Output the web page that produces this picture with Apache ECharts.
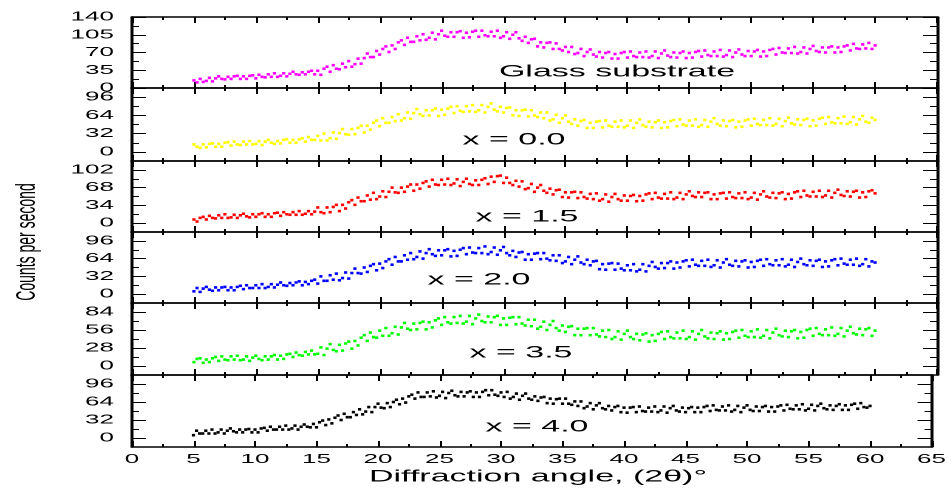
<!DOCTYPE html>
<html>
<head>
<meta charset="utf-8">
<script src="https://cdn.jsdelivr.net/npm/echarts@6/dist/echarts.min.js"></script>
<style>
html,body{margin:0;padding:0;background:#fff;overflow:hidden;}
#c{width:476px;height:488px;transform:scaleX(2);transform-origin:0 0;}
</style>
</head>
<body>
<div id="c"></div>
<script>
// ---- data ----
const angleStart = 5, angleStep = 0.25;
const xTickLabels = [0,5,10,15,20,25,30,35,40,45,50,55,60,65];
const sampleNames = ['Glass substrate','x = 0.0','x = 1.5','x = 2.0','x = 3.5','x = 4.0'];
const glass = [
15,11,18,12, 14,20,13,19, 23,18,17,22, 18,23,24,18, 23,18,24,25,
19,26,22,21, 27,22,29,22, 24,29,23,28, 32,27,26,31, 27,32,34,27,
34,26,38,42, 32,45,38,37, 48,41,53,42, 47,58,48,59, 68,61,61,73,
66,77,82,71, 84,77,90,94, 85,99,91,91, 102,94,106,95, 99,109,96,106,
113,103,101,110, 101,110,112,99, 109,100,111,113, 101,113,104,102, 111,102,113,99,
102,110,97,105, 110,98,93,101, 89,96,97,82, 90,80,89,90, 77,88,77,74,
81,71,81,67, 69,77,63,71, 76,66,62,71, 60,69,71,58, 67,58,69,71,
60,72,63,61, 70,61,72,60, 63,72,59,68, 74,64,61,70, 60,69,72,59,
69,60,71,73, 62,74,65,63, 72,63,75,62, 65,74,61,70, 76,66,63,73,
63,72,75,62, 72,63,75,77, 66,79,70,69, 78,69,81,68, 71,80,68,77,
83,73,71,80, 70,80,82,70, 80,71,82,84, 74,87,78,77, 86,78,89,77,
84];
const x00 = [
13,9,7,13, 8,14,15,9, 14,9,16,17, 11,18,13,12, 18,13,19,13,
14,19,12,18, 21,16,14,19, 15,21,22,16, 21,16,22,24, 18,26,21,21,
28,20,32,20, 24,34,23,33, 40,31,30,40, 31,42,46,34, 46,39,51,55,
45,59,51,51, 61,54,66,55, 59,69,58,68, 75,66,63,73, 64,73,76,63,
74,65,76,79, 68,80,72,70, 80,71,82,70, 73,82,69,79, 85,74,71,79,
69,77,78,64, 73,63,73,74, 62,73,64,61, 69,59,69,55, 57,65,51,59,
64,53,49,57, 46,54,56,42, 51,42,53,54, 43,55,46,44, 53,44,55,43,
46,55,42,51, 57,47,44,53, 43,52,55,42, 52,43,54,56, 45,57,48,46,
55,46,57,44, 47,56,44,53, 59,49,46,55, 45,54,56,43, 53,44,55,57,
46,58,49,47, 56,47,59,46, 49,58,45,54, 60,50,48,57, 47,56,58,45,
55,46,58,60, 49,61,52,50, 59,50,62,49, 52,61,48,57, 63,53,51,60,
56];
const x15 = [
7,3,10,12, 7,14,10,9, 15,10,17,10, 11,16,10,15, 18,13,11,17,
12,17,19,12, 17,12,19,20, 14,21,17,16, 21,16,23,16, 18,23,17,22,
30,21,19,30, 21,31,35,23, 35,28,40,44, 35,49,42,42, 53,45,58,46,
51,61,50,60, 68,59,58,68, 60,70,74,62, 74,66,77,80, 70,83,74,73,
83,74,85,73, 76,84,71,79, 85,75,73,82, 73,83,86,75, 89,79,90,91,
77,87,77,73, 81,70,80,65, 67,75,60,68, 73,62,58,66, 55,63,64,50,
59,49,59,60, 48,59,50,47, 56,46,57,43, 46,55,41,50, 56,46,43,53,
43,52,54,42, 52,43,55,57, 46,58,49,47, 56,47,59,46, 49,58,46,55,
61,52,50,59, 50,58,59,46, 55,46,57,58, 47,59,50,48, 57,48,59,46,
49,58,45,55, 61,51,49,58, 48,57,59,46, 56,47,59,61, 50,62,53,51,
60,51,62,50, 53,62,49,58, 64,54,52,61, 51,60,62,49, 59,50,61,63,
57];
const x20 = [
5,11,4,10, 13,8,6,12, 7,12,13,7, 12,7,13,15, 9,16,11,11,
16,11,18,11, 13,18,12,17, 21,16,15,20, 16,21,23,16, 22,18,24,26,
19,32,24,24, 34,26,37,25, 29,39,28,38, 46,38,37,48, 40,51,54,43,
55,47,59,63, 53,67,59,59, 70,62,74,63, 67,77,64,74, 81,72,69,79,
70,79,81,68, 78,69,80,83, 72,84,75,74, 83,74,86,72, 76,84,71,79,
85,74,70,78, 67,75,76,62, 72,62,73,74, 63,74,64,61, 70,60,70,56,
59,67,54,62, 68,57,54,62, 52,59,60,45, 54,44,55,56, 44,55,46,43,
52,43,54,41, 44,54,41,51, 58,49,46,56, 47,56,59,46, 57,48,59,61,
50,62,53,51, 60,51,62,49, 52,61,48,57, 63,53,51,60, 50,59,61,48,
58,49,60,62, 51,63,54,52, 61,52,63,50, 53,62,49,58, 64,54,52,61,
51,60,62,49, 59,50,61,63, 52,64,55,53, 62,53,64,51, 54,63,50,59,
57];
const x35 = [
6,11,12,5, 10,6,12,14, 8,15,10,9, 15,10,16,9, 10,15,8,13,
16,11,9,15, 10,15,17,10, 16,11,18,19, 14,21,17,16, 22,18,24,18,
19,29,17,27, 34,25,23,33, 24,35,38,27, 39,32,44,48, 39,52,45,44,
55,47,59,47, 51,61,49,60, 67,58,56,66, 57,67,69,57, 68,60,71,74,
64,76,68,66, 76,67,78,66, 69,78,65,74, 80,70,68,77, 68,76,78,64,
74,64,75,76, 65,76,66,63, 72,62,72,58, 61,69,56,64, 70,59,55,63,
53,61,62,48, 58,48,58,59, 48,59,49,46, 55,45,56,42, 45,54,41,50,
55,45,42,50, 40,49,51,38, 48,39,50,53, 42,54,45,43, 52,43,55,42,
45,54,41,50, 56,46,43,52, 42,51,54,41, 51,42,53,55, 44,56,47,45,
54,45,57,44, 47,56,43,52, 58,48,46,55, 45,54,56,43, 53,44,56,58,
47,59,50,48, 57,48,60,47, 50,59,46,55, 61,51,49,58, 48,57,59,47,
55];
const x40 = [
5,13,8,8, 13,8,15,8, 10,15,8,13, 17,12,10,15, 10,15,16,10,
15,10,17,18, 13,20,15,15, 20,15,22,15, 17,22,15,20, 24,20,19,25,
19,28,31,23, 33,26,36,40, 32,43,37,37, 46,41,51,42, 47,55,46,55,
61,54,53,62, 55,64,68,60, 70,63,74,77, 70,81,73,73, 81,74,83,72,
75,82,71,80, 84,76,74,82, 74,81,83,73, 81,73,82,85, 76,85,77,75,
81,73,82,70, 73,79,68,75, 79,70,68,74, 66,72,73,62, 70,61,69,70,
61,70,61,59, 65,57,65,53, 56,62,51,58, 62,53,51,57, 49,55,57,46,
54,45,54,55, 46,56,48,47, 54,47,56,46, 49,56,45,53, 57,49,47,54,
46,53,55,46, 54,46,55,57, 48,58,50,49, 56,49,58,47, 50,57,46,54,
58,50,48,56, 48,55,57,47, 55,47,56,58, 49,59,52,51, 58,51,60,49,
52,59,49,57, 61,53,51,58, 50,57,60,50, 58,50,59,61, 52,62,55,54,
57];
const seriesValues = [glass, x00, x15, x20, x35, x40];
const seriesColors = ['#ff00ff','#ffff00','#ff0000','#0000ff','#00ff00','#000000'];
const yMin = [0, -16, -17, -16, -14, -16];
const yMax = [140, 112, 119, 112, 98, 112];
const yMajor = [[0,35,70,105,140],[0,32,64,96],[0,34,68,102],[0,32,64,96],[0,28,56,84],[0,32,64,96]];
const yMinor = [[17.5,52.5,87.5,122.5],[16,48,80],[17,51,85],[16,48,80],[14,42,70],[16,48,80]];

// ---- layout (logical px; page is stretched 2x horizontally) ----
const FONT = 'Liberation Sans, Arial, sans-serif';
const tops = [17, 88, 161, 232, 303, 375];
const heights = [71, 73, 71, 71, 72, 72];
const labelPos = [[308.5,72],[257,140],[263.5,217],[239.5,280],[260.5,353],[268.5,427]];

const chart = echarts.init(document.getElementById('c'), null, {renderer:'canvas', devicePixelRatio:2});
const grids = [], xAxes = [], yAxes = [], series = [];
for (let i = 0; i < 6; i++) {
  grids.push({left:66, right:7.5, top:tops[i], height:heights[i], containLabel:false});
  ['bottom','top'].forEach(function(pos){
    xAxes.push({
      gridIndex:i, type:'value', min:0, max:65, interval:5, position:pos,
      axisLine:{show:true, onZero:false, lineStyle:{color:'#000', width:1.5}},
      axisTick:{show:true, inside:true, length:6, lineStyle:{color:'#000', width:1}},
      minorTick:{show:true, splitNumber:2, length:3, lineStyle:{color:'#000', width:1}},
      splitLine:{show:false}, minorSplitLine:{show:false},
      axisLabel:{show:(i===5 && pos==='bottom'), margin:6, fontSize:13, color:'#000', fontFamily:FONT,
        customValues: xTickLabels}
    });
  });
  ['left','right'].forEach(function(pos){
    yAxes.push({
      gridIndex:i, type:'value', min:yMin[i], max:yMax[i], position:pos,
      axisLine:{show:true, onZero:false, lineStyle:{color:'#000', width:1.5}},
      axisTick:{show:true, inside:true, length:7, customValues:yMajor[i], lineStyle:{color:'#000', width:1}},
      axisLabel:{show:pos==='left', customValues:yMajor[i], margin:9, fontSize:13, color:'#000', fontFamily:FONT},
      splitLine:{show:false}
    });
    yAxes.push({
      gridIndex:i, type:'value', min:yMin[i], max:yMax[i], position:pos,
      axisLine:{show:false, onZero:false},
      axisTick:{show:true, inside:true, length:3.5, customValues:yMinor[i], lineStyle:{color:'#000', width:1}},
      axisLabel:{show:false},
      splitLine:{show:false}
    });
  });
  const vals = seriesValues[i];
  const pts = [];
  for (let k = 0; k < vals.length; k++) pts.push([angleStart + k*angleStep, vals[k]]);
  series.push({
    type:'scatter', xAxisIndex:2*i, yAxisIndex:4*i, data:pts,
    symbol:'rect', symbolSize:[1.6, 2.6], itemStyle:{color:seriesColors[i], opacity:1},
    silent:true, animation:false
  });
}
const graphics = [];
for (let i = 0; i < 6; i++) {
  graphics.push({type:'text', x:labelPos[i][0], y:labelPos[i][1], silent:true,
    style:{text:sampleNames[i], fontSize:17, fontFamily:FONT, fill:'#000', align:'center', verticalAlign:'middle'}});
}
graphics.push({type:'text', x:269, y:477, silent:true,
  style:{text:'Diffraction angle, (2\u03b8)\u00b0', fontSize:17, fontFamily:FONT, fill:'#000', align:'center', verticalAlign:'middle'}});
graphics.push({type:'text', x:13.5, y:242, rotation:Math.PI/2, silent:true,
  style:{text:'Counts per second', fontSize:14, fontFamily:FONT, fill:'#000', align:'center', verticalAlign:'middle'}});

chart.setOption({
  animation:false,
  backgroundColor:'#fff',
  grid:grids, xAxis:xAxes, yAxis:yAxes, series:series, graphic:graphics
});
</script>
</body>
</html>
